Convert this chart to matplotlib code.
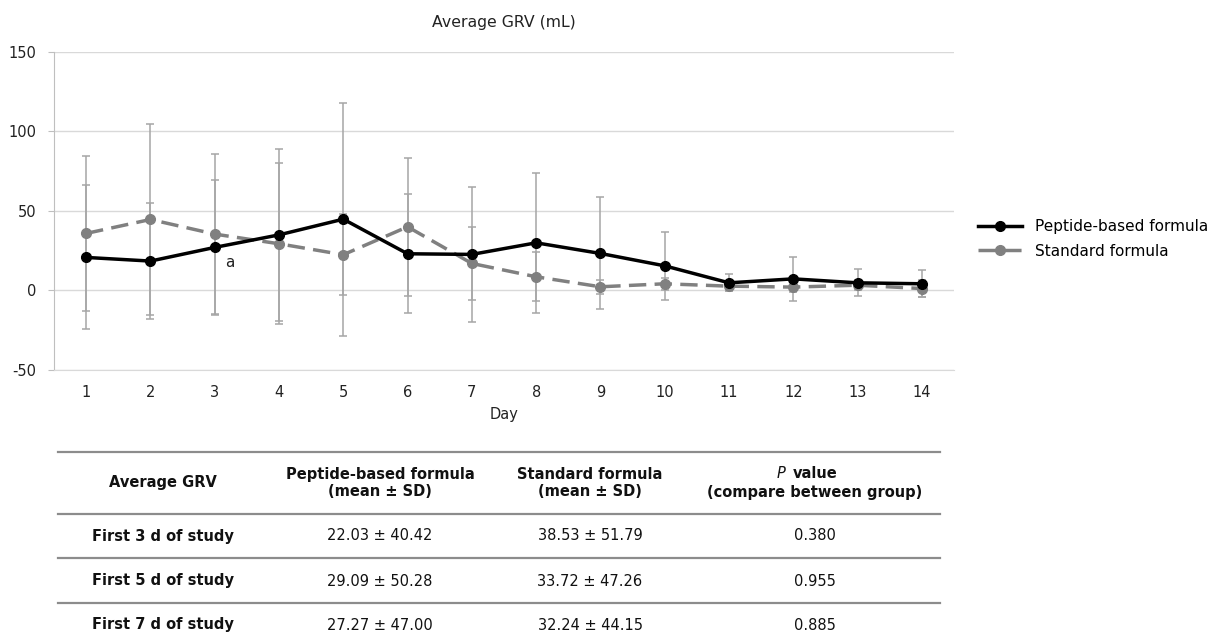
import numpy as np
import matplotlib
matplotlib.use("Agg")
import matplotlib.pyplot as plt

plt.rcParams['font.family'] = ['DejaVu Sans']
plt.rcParams['axes.unicode_minus'] = False

# data
days = np.arange(1, 15)
peptide_mean = [20.6, 18.3, 26.9, 34.8, 44.7, 22.9, 22.5, 29.8, 23.1, 15.3, 4.6, 7.1, 4.6, 4.0]
peptide_sd = [45.4, 36.8, 42.4, 54.0, 73.3, 37.6, 42.6, 44.1, 35.3, 21.4, 5.3, 13.7, 8.6, 8.4]
standard_mean = [35.7, 44.5, 35.3, 29.2, 22.3, 39.9, 16.8, 8.4, 2.1, 4.0, 2.5, 1.9, 3.1, 1.0]
standard_sd = [49.1, 60.1, 50.4, 50.8, 25.6, 43.3, 23.1, 15.5, 4.5, 3.8, 3.0, 3.0, 3.0, 5.5]
y_ticks = [-50, 0, 50, 100, 150]

# table below the chart
table_header = ["Average GRV", "Peptide-based formula\n(mean \u00b1 SD)",
                "Standard formula\n(mean \u00b1 SD)"]
table_rows = ["First 3 d of study", "First 5 d of study", "First 7 d of study"]
table_peptide = ["22.03 \u00b1 40.42", "29.09 \u00b1 50.28", "27.27 \u00b1 47.00"]
table_standard = ["38.53 \u00b1 51.79", "33.72 \u00b1 47.26", "32.24 \u00b1 44.15"]
table_p = ["0.380", "0.955", "0.885"]

W, H = 1219, 638
fig = plt.figure(figsize=(W / 100, H / 100), dpi=100)
ax = fig.add_axes([54 / W, 1 - 369.5 / H, 900 / W, (369.5 - 52) / H])

err_col = '#a6a6a6'
ax.errorbar(days, peptide_mean, yerr=peptide_sd, fmt='none', ecolor=err_col,
            elinewidth=1.1, capsize=3.2, capthick=1.1, zorder=2)
ax.errorbar(days, standard_mean, yerr=standard_sd, fmt='none', ecolor=err_col,
            elinewidth=1.1, capsize=3.2, capthick=1.1, zorder=2)
l2, = ax.plot(days, standard_mean, color='#808080', lw=2.5, ls=(0, (5, 2.4)),
              marker='o', ms=7, zorder=3, label='Standard formula')
l1, = ax.plot(days, peptide_mean, color='black', lw=2.5, marker='o', ms=7,
              zorder=4, label='Peptide-based formula')

ax.text(3.24, 17.2, 'a', fontsize=11, ha='center', va='center', color='#222222')

ax.set_xlim(0.5, 14.5)
ax.set_ylim(-50, 150)
ax.set_xticks(days)
ax.set_yticks(y_ticks)
ax.yaxis.grid(True, color='#d9d9d9', lw=1)
ax.set_axisbelow(True)
for s in ['top', 'right']:
    ax.spines[s].set_visible(False)
ax.spines['left'].set_color('#bfbfbf')
ax.spines['bottom'].set_color('#d9d9d9')
ax.tick_params(axis='x', length=0, pad=11, labelsize=10.5, colors='#222222')
ax.tick_params(axis='y', length=4, color='#bfbfbf', pad=8.5, labelsize=10.5,
               labelcolor='#222222')
ax.set_xlabel('Day', fontsize=10.5, labelpad=5, color='#222222')

fig.text(504 / W, 1 - 22 / H, 'Average GRV (mL)', ha='center', va='center',
         fontsize=11.3, color='#222222')

fig.legend(handles=[l1, l2], loc='center left', bbox_to_anchor=(978 / W, 1 - 239 / H),
           frameon=False, fontsize=11, handlelength=2.9, handletextpad=0.8,
           labelspacing=0.6, borderpad=0, borderaxespad=0)

# table drawn in pixel coordinates
tab = fig.add_axes([0, 0, 1, 1])
tab.set_xlim(0, W)
tab.set_ylim(H, 0)
tab.axis('off')
col_x = [163, 380, 590, 815]
for yl in [452, 514, 558, 603]:
    tab.plot([58, 940], [yl, yl], color='#8c8c8c', lw=1.6)
for cx, txt in zip(col_x[:3], table_header):
    tab.text(cx, 483, txt, ha='center', va='center', fontsize=10.5,
             fontweight='bold', linespacing=1.15, color='#111111')
tab.text(col_x[3] - 30, 473, 'P', ha='right', va='center', fontsize=10.5,
         style='italic', color='#111111')
tab.text(col_x[3] - 22, 473, 'value', ha='left', va='center', fontsize=10.5,
         fontweight='bold', color='#111111')
tab.text(col_x[3], 493, '(compare between group)', ha='center', va='center',
         fontsize=10.5, fontweight='bold', color='#111111')
row_y = [536, 581, 625]
for ry, name, pv, sv, p in zip(row_y, table_rows, table_peptide, table_standard, table_p):
    tab.text(col_x[0], ry, name, ha='center', va='center', fontsize=10.5,
             fontweight='bold', color='#111111')
    tab.text(col_x[1], ry, pv, ha='center', va='center', fontsize=10.5, color='#111111')
    tab.text(col_x[2], ry, sv, ha='center', va='center', fontsize=10.5, color='#111111')
    tab.text(col_x[3], ry, p, ha='center', va='center', fontsize=10.5, color='#111111')

fig.savefig('out.png', dpi=100)
